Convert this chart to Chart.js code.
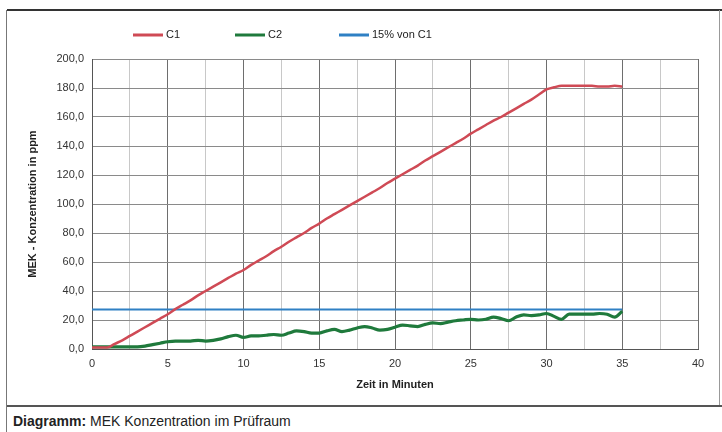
<!DOCTYPE html>
<html>
<head>
<meta charset="utf-8">
<script src="https://cdn.jsdelivr.net/npm/chart.js@4"></script>
<style>
  html, body { margin: 0; padding: 0; background: #fff; }
  #wrap { position: relative; width: 722px; height: 432px; overflow: hidden; }
  #frameTop { position: absolute; left: 7px; top: 9px; width: 715px; height: 2px; background: #333; }
  #frameLeft { position: absolute; left: 6px; top: 10px; width: 1px; height: 422px; background: #777; }
  #frameRight { position: absolute; left: 719px; top: 10px; width: 1px; height: 396px; background: #999; }
  #sep { position: absolute; left: 7px; top: 405px; width: 715px; height: 2px; background: #555; }
  #caption { position: absolute; left: 13px; top: 413px; font: 14px "Liberation Sans", Arial, sans-serif; color: #222; }
  #chartBox { position: absolute; left: 0; top: 0; width: 722px; height: 404px; }
</style>
</head>
<body>
<div id="wrap">
  <div id="chartBox"><canvas id="chart" width="722" height="404"></canvas></div>
  <div id="frameTop"></div>
  <div id="frameLeft"></div>
  <div id="frameRight"></div>
  <div id="sep"></div>
  <div id="caption"><b>Diagramm:</b> MEK Konzentration im Prüfraum</div>
</div>
<script>
// minutes, one reading every half minute
const minutes = [0,0.5,1,1.5,2,2.5,3,3.5,4,4.5,5,5.5,6,6.5,7,7.5,8,8.5,9,9.5,
  10,10.5,11,11.5,12,12.5,13,13.5,14,14.5,15,15.5,16,16.5,17,17.5,18,18.5,19,19.5,
  20,20.5,21,21.5,22,22.5,23,23.5,24,24.5,25,25.5,26,26.5,27,27.5,28,28.5,29,29.5,
  30,30.5,31,31.5,32,32.5,33,33.5,34,34.5,35];

const c1 = [1,1,1,3.5,6,9,12,15,18,21,24,27.5,30.5,33.5,37,40,43,46,49,52,
  54.5,58,61,64,67.5,70.5,74,77,80,83.5,86.5,90,93,96,99,102,105,108,111,114.5,
  117.5,120.5,123.5,126.5,130,133,136,139,142,145,148.5,151.5,154.5,157.5,160,163,166,169,172,175.5,
  179,180.5,181.5,181.5,181.5,181.5,181.5,181,181,181.5,181];

const c2 = [1.5,1.5,1.5,1.5,1.5,1.5,1.5,2,3,4,
  5,5.5,5.5,5.5,6,5.5,6,7,8.5,9.5,
  8,9,9,9.5,10,9.5,11,12.5,12,11,
  11,12.5,13.5,12,13,14.5,15.5,14.5,13,13.5,
  15,16.5,16,15.5,17,18,17.5,18.5,19.5,20,
  20.5,20,20.5,22,21,19.5,22,23.5,23,23.5,
  24.5,22.5,20.5,24,24,24,24,24.5,24,22,26];

const limitMinutes = [0, 35];
const limit = [27.2, 27.2];

const seriesNames = ['C1', 'C2', '15% von C1'];
const seriesColors = ['#cf4a55', '#1f7a3c', '#2f80c4'];

const xTicks = [0, 5, 10, 15, 20, 25, 30, 35, 40];

function pts(xs, ys) {
  return xs.map((x, i) => ({x: x, y: ys[i]}));
}

// legend drawn by hand so it sits where the original one is
const legendPlugin = {
  id: 'handLegend',
  afterDraw(chart) {
    const ctx = chart.ctx;
    const items = [
      {x: 133, name: seriesNames[0], color: seriesColors[0]},
      {x: 235, name: seriesNames[1], color: seriesColors[1]},
      {x: 339, name: seriesNames[2], color: seriesColors[2]},
    ];
    ctx.save();
    ctx.font = '11px "Liberation Sans", Arial, sans-serif';
    ctx.textBaseline = 'middle';
    ctx.fillStyle = '#222';
    items.forEach(it => {
      ctx.strokeStyle = it.color;
      ctx.lineWidth = 3;
      ctx.beginPath();
      ctx.moveTo(it.x, 35);
      ctx.lineTo(it.x + 30, 35);
      ctx.stroke();
      ctx.fillText(it.name, it.x + 33, 35);
    });
    ctx.restore();
  }
};

new Chart(document.getElementById('chart'), {
  type: 'line',
  data: {
    datasets: [
      {label: seriesNames[0], data: pts(minutes, c1), borderColor: seriesColors[0], borderWidth: 2.5},
      {label: seriesNames[1], data: pts(minutes, c2), borderColor: seriesColors[1], borderWidth: 3.2},
      {label: seriesNames[2], data: pts(limitMinutes, limit), borderColor: seriesColors[2], borderWidth: 2},
    ]
  },
  options: {
    responsive: false,
    animation: false,
    devicePixelRatio: 1,
    elements: {point: {radius: 0}, line: {cubicInterpolationMode: 'monotone', fill: false}},
    layout: {padding: {left: 20, right: 24, top: 59, bottom: 12}},
    plugins: {legend: {display: false}, tooltip: {enabled: false}},
    scales: {
      x: {
        type: 'linear', min: 0, max: 40,
        afterFit(s) { s.height = 43; },
        afterBuildTicks(s) {
          const t = [];
          for (let i = 0; i < xTicks.length; i++) {
            t.push({value: xTicks[i]});
            if (i < xTicks.length - 1) t.push({value: xTicks[i] + 2.5});
          }
          s.ticks = t;
        },
        ticks: {
          autoSkip: false, maxRotation: 0, padding: 8, color: '#333',
          font: {family: '"Liberation Sans", Arial, sans-serif', size: 11},
          callback: v => (xTicks.includes(v) ? String(v) : '')
        },
        grid: {
          drawTicks: false,
          color: c => (c.tick && xTicks.includes(c.tick.value) ? '#6e6e6e' : '#c8c8c8'),
          lineWidth: 1
        },
        border: {color: '#555', width: 1},
        title: {
          display: true, text: 'Zeit in Minuten', color: '#222',
          font: {family: '"Liberation Sans", Arial, sans-serif', size: 11, weight: 'bold'},
          padding: {top: 9, bottom: 0}
        }
      },
      y: {
        min: 0, max: 200,
        afterFit(s) { s.width = 72; },
        ticks: {
          stepSize: 20, padding: 8, color: '#333',
          font: {family: '"Liberation Sans", Arial, sans-serif', size: 11},
          callback: v => v.toFixed(1).replace('.', ',')
        },
        grid: {drawTicks: false, color: '#8a8a8a', lineWidth: 1},
        border: {color: '#555', width: 1},
        title: {
          display: true, text: 'MEK - Konzentration in ppm', color: '#222',
          font: {family: '"Liberation Sans", Arial, sans-serif', size: 11, weight: 'bold'},
          padding: {top: 6, bottom: 0}
        }
      }
    }
  },
  plugins: [legendPlugin]
});
</script>
</body>
</html>
